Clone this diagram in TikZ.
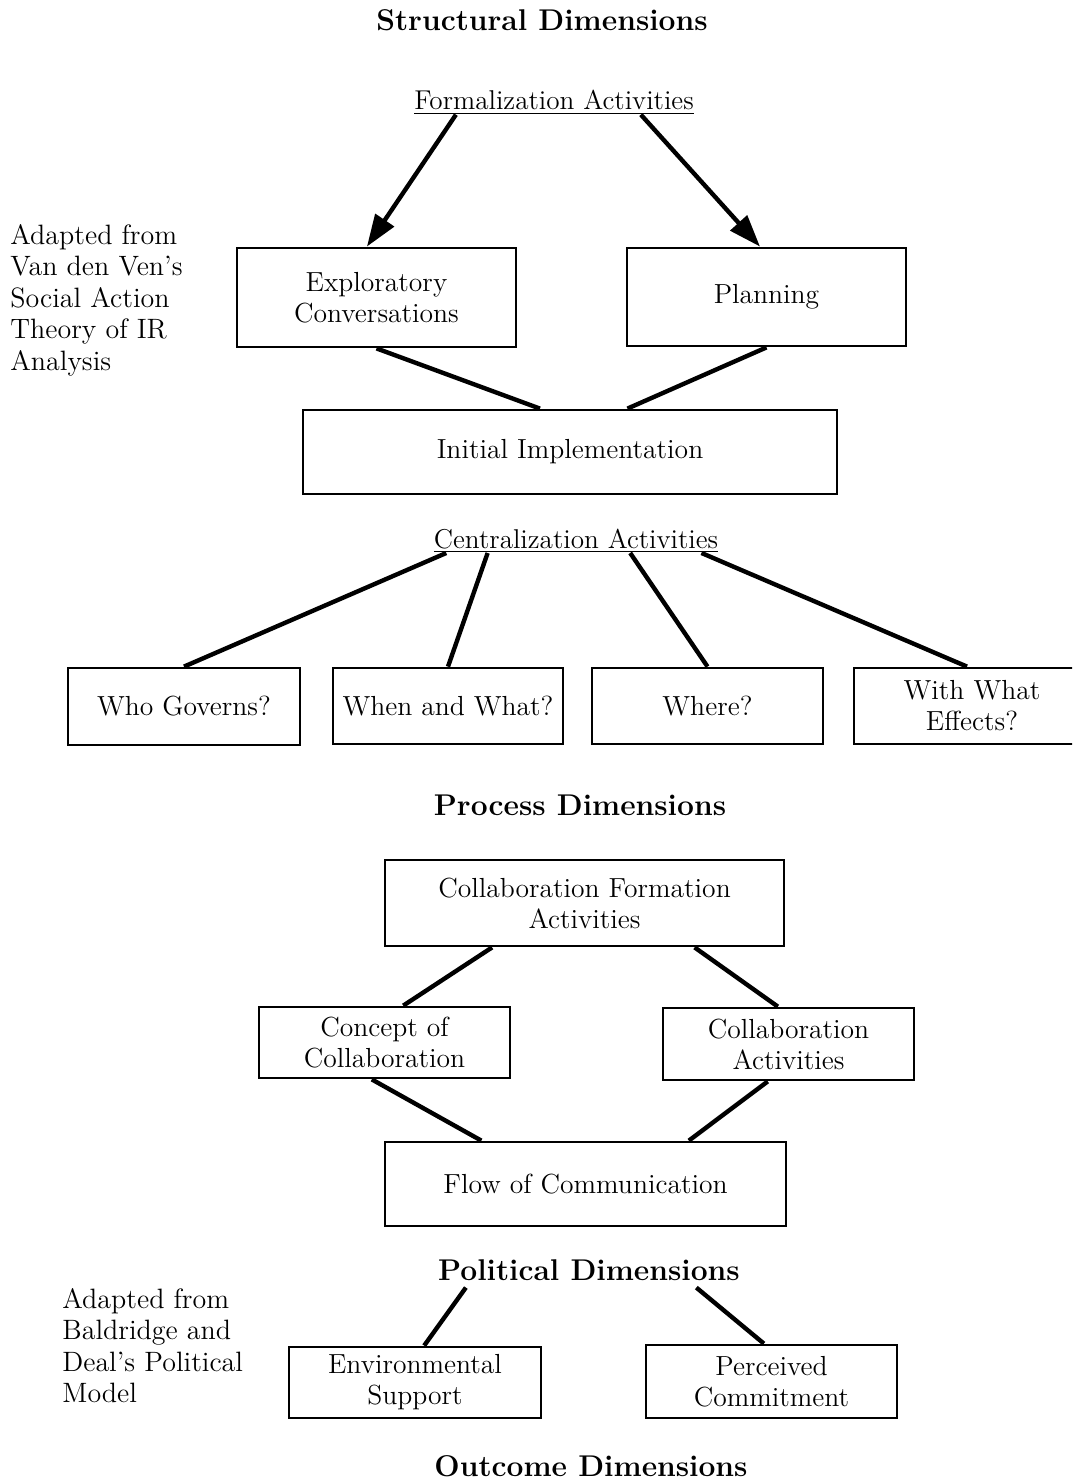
\documentclass[tikz,border=0pt]{standalone}
\usepackage{tikz}
\usetikzlibrary{calc}
\usetikzlibrary{arrows.meta}

\begin{document}
\begin{tikzpicture}[x=0.5pt, y=-0.5pt,
  box/.style={draw, line width=1.4pt, align=center, inner sep=2pt,
    font=\fontsize{13.8}{15.5}\selectfont},
  title/.style={font=\fontsize{15}{17}\selectfont\bfseries},
  heading/.style={inner sep=0pt, anchor=base, font=\fontsize{13.6}{15.5}\selectfont},
  note/.style={inner sep=0pt, anchor=north west, align=left,
    font=\fontsize{14}{15.75}\selectfont},
  link/.style={line width=2.2pt},
  arrow/.style={link, -{Triangle[length=16pt,width=11pt]}}]
\useasboundingbox (0,0) rectangle (1072,1482);
\clip (0,0) rectangle (1072,1482);

% structural dimensions
\node[title] (struct) at (542,20) {Structural Dimensions};
\node[heading] (formal) at (554,110) {\underline{Formalization Activities}};

\node[box, minimum width=139.5pt, minimum height=49.5pt] (explore) at (376.5,297.5)
  {Exploratory\\Conversations};
\node[box, minimum width=139.5pt, minimum height=49pt] (plan) at (766.5,297) {Planning};
\node[box, minimum width=267pt, minimum height=42pt] (init) at (570,452)
  {Initial Implementation};

\node[note] (vandeven) at (10,224)
  {Adapted from\\Van den Ven's\\Social Action\\Theory of IR\\Analysis};

\draw[arrow] ($(formal.south west)!0.15!(formal.south east)$)
  -- ($(explore.north west)!0.466!(explore.north east)$);
\draw[arrow] ($(formal.south west)!0.81!(formal.south east)$)
  -- ($(plan.north west)!0.477!(plan.north east)$);
\draw[link] (explore.south) -- ($(init.north west)!0.444!(init.north east)$);
\draw[link] (plan.south) -- ($(init.north west)!0.607!(init.north east)$);

\node[heading] (central) at (576,548) {\underline{Centralization Activities}};

\node[box, minimum width=116pt, minimum height=38.5pt] (who) at (184,706.5) {Who Governs?};
\node[box, minimum width=115pt, minimum height=38pt] (whenwhat) at (448,706) {When and What?};
\node[box, minimum width=115.5pt, minimum height=38pt] (where) at (707.5,706) {Where?};
\node[box, minimum width=113pt, minimum height=38pt, text width=100pt] (effects) at (967,706)
  {\hspace*{5pt}With What\\\hspace*{5pt}Effects?};

\draw[link] ($(central.south west)!0.045!(central.south east)$) -- (who.north);
\draw[link] ($(central.south west)!0.19!(central.south east)$) -- (whenwhat.north);
\draw[link] ($(central.south west)!0.69!(central.south east)$) -- (where.north);
\draw[link] ($(central.south west)!0.94!(central.south east)$) -- (effects.north);

% process dimensions
\node[title] (process) at (580,805) {Process Dimensions};

\node[box, minimum width=199.5pt, minimum height=43pt] (formation) at (584.5,903)
  {Collaboration Formation\\Activities};
\node[box, minimum width=125.5pt, minimum height=35.5pt] (concept) at (384.5,1042.5)
  {Concept of\\Collaboration};
\node[box, minimum width=125.5pt, minimum height=36pt] (collab) at (788.5,1044)
  {Collaboration\\Activities};
\node[box, minimum width=200.5pt, minimum height=42pt] (flow) at (585.5,1184)
  {Flow of Communication};

\draw[link] ($(formation.south west)!0.27!(formation.south east)$)
  -- ($(concept.north west)!0.574!(concept.north east)$);
\draw[link] ($(formation.south west)!0.774!(formation.south east)$)
  -- ($(collab.north west)!0.458!(collab.north east)$);
\draw[link] ($(concept.south west)!0.45!(concept.south east)$)
  -- ($(flow.north west)!0.242!(flow.north east)$);
\draw[link] ($(collab.south west)!0.418!(collab.south east)$)
  -- ($(flow.north west)!0.756!(flow.north east)$);

% political dimensions
\node[title] (political) at (589,1270) {Political Dimensions};

\node[box, minimum width=126pt, minimum height=35.5pt] (environ) at (415,1382.5)
  {Environmental\\Support};
\node[box, minimum width=125.5pt, minimum height=36.5pt] (perceived) at (771.5,1381.5)
  {Perceived\\Commitment};

\node[note] (baldridge) at (62,1288)
  {Adapted from\\Baldridge and\\Deal's Political\\Model};

\draw[link] ($(political.south west)!0.11!(political.south east)$)
  -- ($(environ.north west)!0.536!(environ.north east)$);
\draw[link] ($(political.south west)!0.84!(political.south east)$)
  -- ($(perceived.north west)!0.47!(perceived.north east)$);

% outcome dimensions
\node[title] (outcome) at (591,1466) {Outcome Dimensions};
\end{tikzpicture}
\end{document}
